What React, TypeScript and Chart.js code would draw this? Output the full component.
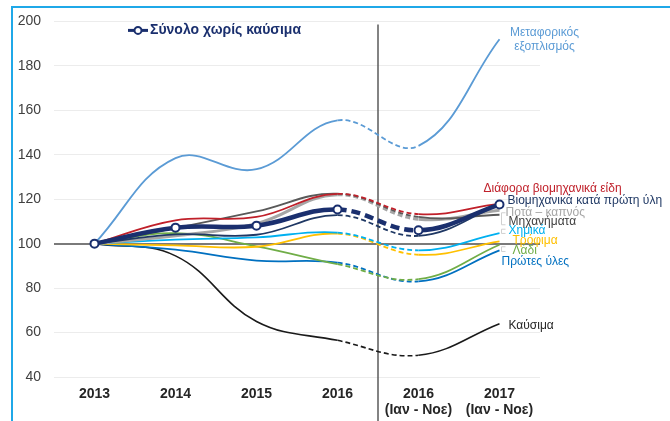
import React, { useEffect, useRef } from "react";
import { Chart, registerables } from "chart.js";

Chart.register(...registerables);

const categories: (string | string[])[] = [
  "2013",
  "2014",
  "2015",
  "2016",
  ["2016", "(Ιαν - Νοε)"],
  ["2017", "(Ιαν - Νοε)"],
];

const totalNoFuel = [100, 107.2, 108.1, 115.4, 106, 117.6];
const transport = [100, 138.5, 133.5, 155.5, 144, 192];
const miscGoods = [100, 110.5, 112, 122.4, 113.3, 118];
const rawIndustrial = [100, 104.2, 104, 112.8, 103.5, 117.5];
const drinksTobacco = [100, 103.5, 109, 122, 111, 115];
const machinery = [100, 107, 114.5, 122.5, 112, 113];
const chemicals = [100, 101.8, 102.8, 105, 97, 104.7];
const food = [100, 99.2, 98.6, 104.5, 95, 101];
const oil = [100, 104.7, 98.8, 90.8, 84, 99.5];
const rawMaterials = [100, 97.3, 92.4, 91.5, 83, 97];
const fuel = [100, 94.5, 65, 56.5, 49.8, 64];

const yTicks = [40, 60, 80, 100, 120, 140, 160, 180, 200];

const FONT = "'Liberation Sans', Arial, sans-serif";

type Lbl = { lines: string[]; color: string; dx: number; value: number; align: CanvasTextAlign };
const endLabels: Lbl[] = [
  { lines: ["Μεταφορικός"], color: "#5b9bd5", dx: 45, value: 195.1, align: "center" },
  { lines: ["εξοπλισμός"], color: "#5b9bd5", dx: 45, value: 188.4, align: "center" },
  { lines: ["Διάφορα βιομηχανικά είδη"], color: "#c0202a", dx: -16, value: 124.8, align: "left" },
  { lines: ["Βιομηχανικά κατά πρώτη ύλη"], color: "#1f3864", dx: 8, value: 119.5, align: "left" },
  { lines: ["Ποτά – καπνός"], color: "#a6a6a6", dx: 6, value: 113.9, align: "left" },
  { lines: ["Μηχανήματα"], color: "#404040", dx: 9, value: 109.8, align: "left" },
  { lines: ["Χημικά"], color: "#00b0f0", dx: 9, value: 105.7, align: "left" },
  { lines: ["Τρόφιμα"], color: "#ffc000", dx: 13, value: 101.5, align: "left" },
  { lines: ["Λάδι"], color: "#70ad47", dx: 13, value: 96.8, align: "left" },
  { lines: ["Πρώτες ύλες"], color: "#0070c0", dx: 2, value: 91.8, align: "left" },
  { lines: ["Καύσιμα"], color: "#262626", dx: 9, value: 63.2, align: "left" },
];

const dashSeg = (dash: number[]) => ({
  borderDash: (ctx: any) => (ctx.p0DataIndex === 3 ? dash : undefined),
});

function makeDs(label: string, data: number[], color: string, width: number, dash: number[]) {
  return {
    label,
    data,
    borderColor: color,
    backgroundColor: color,
    borderWidth: width,
    pointRadius: 0,
    pointHoverRadius: 0,
    tension: 0.4,
    fill: false,
    segment: dashSeg(dash),
  };
}

const annotPlugin = {
  id: "annot",
  beforeDatasetsDraw(chart: any) {
    const { ctx, chartArea, scales } = chart;
    const x = scales.x;
    const sepX = (x.getPixelForValue(3) + x.getPixelForValue(4)) / 2;
    ctx.save();
    ctx.strokeStyle = "#5a5a5a";
    ctx.lineWidth = 1.5;
    ctx.beginPath();
    ctx.moveTo(sepX, chartArea.top + 3);
    ctx.lineTo(sepX, chart.height);
    ctx.stroke();
    ctx.restore();
  },
  afterDatasetsDraw(chart: any) {
    const { ctx, chartArea, scales } = chart;
    const x = scales.x;
    const y = scales.y;
    const lastX = x.getPixelForValue(5);
    ctx.save();
    ctx.font = `12px ${FONT}`;
    ctx.textBaseline = "middle";
    endLabels.forEach((l) => {
      ctx.fillStyle = l.color;
      ctx.textAlign = l.align;
      ctx.fillText(l.lines[0], lastX + l.dx, y.getPixelForValue(l.value));
    });
    // small leader brackets
    ctx.strokeStyle = "#d0d0d0";
    ctx.lineWidth = 1;
    const brackets = [
      [113.9, 108.5],
      [106.5, 104.6],
      [98.6, 96.5],
    ];
    brackets.forEach(([a, b]) => {
      const y1 = y.getPixelForValue(a);
      const y2 = y.getPixelForValue(b);
      ctx.beginPath();
      ctx.moveTo(lastX + 6, y1);
      ctx.lineTo(lastX + 2, y1);
      ctx.lineTo(lastX + 2, y2);
      ctx.lineTo(lastX + 6, y2);
      ctx.stroke();
    });
    // legend
    const lx = chartArea.left + 74;
    const ly = chartArea.top + 9;
    ctx.strokeStyle = "#1a2f6e";
    ctx.lineWidth = 3;
    ctx.beginPath();
    ctx.moveTo(lx, ly);
    ctx.lineTo(lx + 20, ly);
    ctx.stroke();
    ctx.fillStyle = "#ffffff";
    ctx.lineWidth = 2;
    ctx.beginPath();
    ctx.arc(lx + 10, ly, 3.5, 0, Math.PI * 2);
    ctx.fill();
    ctx.stroke();
    ctx.fillStyle = "#1a2f6e";
    ctx.font = `bold 14px ${FONT}`;
    ctx.textAlign = "left";
    ctx.fillText("Σύνολο χωρίς καύσιμα", lx + 22, ly);
    ctx.restore();
  },
};

export default function App() {
  const ref = useRef<HTMLCanvasElement>(null);
  useEffect(() => {
    if (!ref.current) return;
    const thin = [5, 3];
    const totalDs: any = {
      ...makeDs("Σύνολο χωρίς καύσιμα", totalNoFuel, "#1a2f6e", 4.5, [9, 5]),
      pointRadius: 4,
      pointBackgroundColor: "#ffffff",
      pointBorderColor: "#1a2f6e",
      pointBorderWidth: 2,
    };
    const chart = new Chart(ref.current, {
      type: "line",
      data: {
        labels: categories as any,
        datasets: [
          totalDs,
          makeDs("Βιομηχανικά κατά πρώτη ύλη", rawIndustrial, "#1f3864", 1.8, thin),
          makeDs("Διάφορα βιομηχανικά είδη", miscGoods, "#c0202a", 1.8, thin),
          makeDs("Μηχανήματα", machinery, "#595959", 1.8, thin),
          makeDs("Ποτά – καπνός", drinksTobacco, "#a6a6a6", 3, thin),
          makeDs("Χημικά", chemicals, "#00b0f0", 1.8, thin),
          makeDs("Τρόφιμα", food, "#ffc000", 1.8, thin),
          makeDs("Λάδι", oil, "#70ad47", 1.8, thin),
          makeDs("Πρώτες ύλες", rawMaterials, "#0070c0", 1.8, thin),
          makeDs("Καύσιμα", fuel, "#1a1a1a", 1.6, thin),
          makeDs("Μεταφορικός εξοπλισμός", transport, "#5b9bd5", 1.8, thin),
        ],
      },
      options: {
        responsive: false,
        animation: false,
        devicePixelRatio: 1,
        layout: { padding: { left: 0, right: 130, top: 19, bottom: 0 } },
        plugins: { legend: { display: false }, tooltip: { enabled: false } },
        scales: {
          x: {
            offset: true,
            grid: { display: false },
            border: { display: false },
            ticks: {
              color: "#262626",
              font: { family: FONT, size: 14, weight: "bold", lineHeight: 1.15 },
              padding: 1,
              maxRotation: 0,
            },
            afterFit: (s: any) => {
              s.height = 44;
            },
          },
          y: {
            min: 40,
            max: 200,
            afterBuildTicks: (s: any) => {
              s.ticks = yTicks.map((v) => ({ value: v }));
            },
            grid: {
              drawTicks: false,
              color: (c: any) => (c.tick && c.tick.value === 100 ? "#7a7a7a" : "#ececec"),
              lineWidth: (c: any) => (c.tick && c.tick.value === 100 ? 2 : 1),
            },
            border: { display: false },
            ticks: {
              color: "#404040",
              font: { family: FONT, size: 14 },
              padding: 13,
            },
            afterFit: (s: any) => {
              s.width = 54;
            },
          },
        },
      },
      plugins: [annotPlugin],
    });
    return () => chart.destroy();
  }, []);
  return (
    <div style={{ position: "fixed", left: 0, top: 0, width: 670, height: 421, background: "#fff", overflow: "hidden" }}>
      <div
        style={{
          position: "absolute",
          left: 11,
          top: 6,
          width: 700,
          height: 500,
          borderLeft: "2px solid #1fa8e8",
          borderTop: "2px solid #1fa8e8",
        }}
      />
      <canvas ref={ref} width={670} height={421} style={{ position: "absolute", left: 0, top: 0 }} />
    </div>
  );
}
